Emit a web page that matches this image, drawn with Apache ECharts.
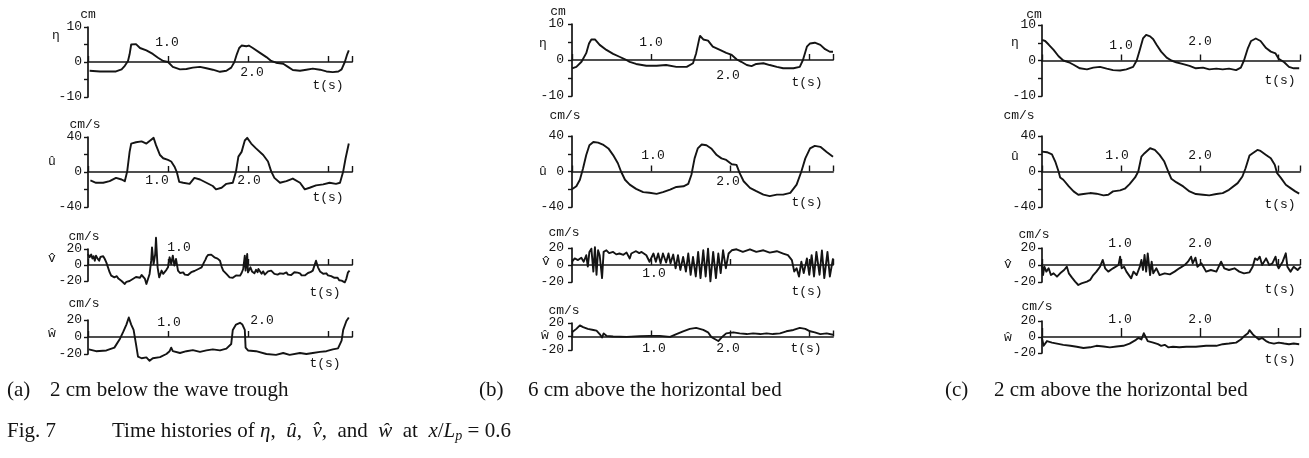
<!DOCTYPE html>
<html>
<head>
<meta charset="utf-8">
<script src="https://cdn.jsdelivr.net/npm/echarts@6/dist/echarts.min.js"></script>
<style>
  html, body { margin: 0; padding: 0; background: #ffffff; }
  #chart { width: 1309px; height: 458px; }
</style>
</head>
<body>
<div id="chart"></div>
<script>
// ---- time histories: [t (s), value] ----
// (a) 2 cm below the wave trough
const etaA = [[0.02,-2.5],[0.15,-2.7],[0.35,-2.7],[0.42,-2.1],[0.46,-1.1],[0.50,0.3],[0.52,2.2],[0.54,5.0],[0.56,5.4],[0.60,5.1],[0.65,4.0],[0.73,3.3],[0.81,2.3],[0.875,1.2],[0.94,0.3],[1.0,0],[1.06,-1.4],[1.15,-2.1],[1.23,-2.0],[1.31,-1.6],[1.40,-1.4],[1.48,-1.8],[1.56,-2.2],[1.65,-2.8],[1.73,-2.5],[1.79,-1.6],[1.83,0],[1.86,2.2],[1.89,4.0],[1.92,4.7],[1.98,4.5],[2.01,4.7],[2.06,4.0],[2.15,2.6],[2.23,1.4],[2.29,0.3],[2.35,-0.2],[2.44,-0.5],[2.50,-1.4],[2.56,-2.3],[2.65,-2.5],[2.73,-2.2],[2.81,-1.9],[2.90,-2.2],[2.98,-2.7],[3.06,-2.9],[3.13,-2.7],[3.17,-2.1],[3.21,0],[3.24,2.2],[3.26,3.3]];
const uA = [[0.03,-9.7],[0.10,-12.3],[0.19,-12.3],[0.27,-10.5],[0.35,-6.7],[0.42,-8.6],[0.46,-10.5],[0.49,0.7],[0.52,23],[0.54,32.5],[0.60,34],[0.67,35],[0.73,32.5],[0.77,35.5],[0.82,39],[0.85,30.7],[0.90,19.4],[0.94,15.7],[1.0,13.8],[1.04,12],[1.08,6.4],[1.11,0],[1.14,-11.2],[1.19,-12.3],[1.27,-13.5],[1.33,-6.7],[1.40,-8.6],[1.48,-12.3],[1.56,-16],[1.60,-19.8],[1.67,-18],[1.73,-13.5],[1.81,-12.3],[1.85,0.7],[1.88,17.6],[1.92,23],[1.96,36],[1.99,39],[2.04,32.5],[2.10,27],[2.19,19.4],[2.25,12],[2.29,0.7],[2.33,-6.7],[2.40,-12.3],[2.48,-10.5],[2.56,-7.5],[2.65,-12.3],[2.71,-19.8],[2.77,-18],[2.85,-15.3],[2.94,-14.2],[3.02,-12.3],[3.10,-13.5],[3.15,-12.3],[3.19,0.7],[3.22,15.7],[3.26,32.5]];
const vA = [[0,13.7],[0.02,9.6],[0.04,13],[0.055,8],[0.07,11],[0.085,5.4],[0.10,11.7],[0.12,8],[0.14,5.4],[0.155,10],[0.17,9.6],[0.19,11],[0.21,7.5],[0.23,3],[0.25,-2.9],[0.27,-9],[0.29,-13.3],[0.31,-12],[0.33,-15.4],[0.36,-14],[0.38,-17],[0.40,-17.5],[0.42,-20],[0.44,-19],[0.46,-23.7],[0.48,-21],[0.50,-23],[0.52,-20],[0.54,-21],[0.56,-17.5],[0.58,-18.5],[0.60,-15],[0.625,-14.6],[0.65,-16],[0.67,-12.5],[0.69,-13.3],[0.71,-17],[0.73,-23.7],[0.75,-25.8],[0.77,-11.2],[0.79,5.4],[0.80,22],[0.82,1.2],[0.84,13.7],[0.85,34],[0.87,-2.9],[0.89,-15.4],[0.92,-7],[0.94,-11],[0.96,-9.2],[0.98,-6],[1.0,-2.9],[1.02,9.6],[1.04,1.2],[1.06,11.7],[1.08,-0.8],[1.10,7.5],[1.125,-7],[1.15,-10],[1.17,-8],[1.19,-9.2],[1.21,-12],[1.23,-10],[1.25,-12.5],[1.27,-11.2],[1.29,-9],[1.31,-10.5],[1.33,-7.5],[1.35,-7],[1.38,-5],[1.40,-4],[1.42,-2.9],[1.45,3.3],[1.47,7],[1.48,9.6],[1.50,12.5],[1.52,11.7],[1.54,13],[1.56,10.5],[1.58,9.6],[1.60,11],[1.62,8],[1.65,5.4],[1.67,-2],[1.69,-7],[1.71,-9],[1.73,-11.2],[1.75,-13],[1.77,-15.4],[1.79,-13],[1.81,-16],[1.83,-15.4],[1.85,-13],[1.87,-15],[1.90,-13.3],[1.92,-10],[1.94,-5],[1.96,11.7],[1.97,-7],[1.99,13.7],[2.0,-9.2],[2.03,-2.9],[2.05,-8],[2.07,-6],[2.08,-10.4],[2.10,-6],[2.12,-9],[2.13,-5],[2.15,-7],[2.17,-11],[2.19,-8],[2.21,-12],[2.23,-11.2],[2.25,-8],[2.27,-10],[2.29,-7],[2.31,-8],[2.33,-11],[2.35,-9],[2.37,-12],[2.40,-10.4],[2.42,-8],[2.44,-11],[2.46,-9],[2.48,-9.2],[2.50,-12],[2.52,-10],[2.54,-12.5],[2.56,-11.2],[2.58,-9],[2.60,-11],[2.62,-9.5],[2.65,-10.4],[2.67,-13],[2.69,-11],[2.71,-13],[2.73,-12],[2.75,-10],[2.78,-9],[2.81,-7],[2.85,5.4],[2.875,-2.9],[2.90,-8],[2.92,-7],[2.94,-11],[2.96,-9],[2.98,-10.4],[3.00,-13],[3.02,-11],[3.04,-14],[3.06,-13.3],[3.08,-16],[3.10,-17.5],[3.12,-16],[3.14,-19],[3.17,-19.6],[3.19,-18],[3.21,-21.7],[3.23,-17],[3.25,-9.2],[3.27,-7]];
const wA = [[0.01,-14.6],[0.10,-16.7],[0.23,-15.8],[0.33,-12.5],[0.40,-2],[0.44,6],[0.48,14.6],[0.51,23],[0.54,14.6],[0.57,8.3],[0.60,-8.3],[0.625,-23],[0.67,-25],[0.73,-24],[0.77,-28],[0.81,-25],[0.90,-23.7],[0.98,-20],[1.02,-16.7],[1.04,-12.5],[1.06,-16.7],[1.15,-18.8],[1.23,-16.7],[1.31,-15.4],[1.40,-17.5],[1.48,-15.8],[1.56,-14.6],[1.65,-15.8],[1.73,-13.7],[1.79,-8.3],[1.81,8.3],[1.85,14.6],[1.90,16.7],[1.93,14.6],[1.96,8.3],[1.97,-12.5],[2.0,-15.8],[2.10,-16.7],[2.23,-20],[2.35,-21],[2.44,-18.8],[2.52,-21],[2.65,-18.8],[2.73,-20],[2.81,-18.8],[2.90,-17.5],[2.98,-16.7],[3.06,-14.6],[3.125,-13.3],[3.17,-4.2],[3.19,8.3],[3.23,18.8],[3.26,23]];

// (b) 6 cm above the horizontal bed
const etaB = [[0,-2.3],[0.055,-1.9],[0.12,-0.5],[0.18,1.9],[0.215,4.6],[0.245,5.7],[0.29,5.7],[0.35,4.2],[0.435,2.8],[0.52,1.7],[0.60,0.9],[0.67,0.2],[0.73,-0.5],[0.81,-1.1],[0.94,-1.6],[1.07,-1.6],[1.19,-1.4],[1.32,-1.9],[1.45,-1.9],[1.53,-0.9],[1.57,1.9],[1.61,6],[1.62,6.7],[1.66,5.7],[1.72,5.4],[1.78,3.7],[1.87,2.8],[1.95,2],[2.02,1.4],[2.08,0.2],[2.14,-0.5],[2.21,-1.4],[2.27,-1.7],[2.33,-1.1],[2.42,-0.9],[2.50,-1.4],[2.59,-1.9],[2.67,-2.3],[2.80,-2.3],[2.88,-1.9],[2.92,0],[2.97,3.7],[3.01,4.6],[3.07,4.8],[3.14,4.2],[3.20,3],[3.26,2.3],[3.30,2.3]];
const uB = [[0,-20],[0.055,-16.7],[0.10,-9.3],[0.14,3.7],[0.18,18.5],[0.22,29.6],[0.27,33.3],[0.33,32.6],[0.39,30.4],[0.46,26],[0.52,18.5],[0.58,9.3],[0.62,0],[0.67,-9.3],[0.73,-14.8],[0.81,-19.6],[0.90,-23.3],[0.98,-24],[1.07,-25.2],[1.15,-23.3],[1.24,-20.4],[1.32,-17.4],[1.41,-16.7],[1.47,-14],[1.51,-3.7],[1.55,14.8],[1.59,26],[1.64,30.4],[1.70,29.6],[1.76,26],[1.83,18.5],[1.89,14.8],[1.95,13],[2.02,8.1],[2.08,7.4],[2.12,-1.9],[2.17,-11],[2.25,-18.5],[2.33,-22.2],[2.42,-26],[2.50,-27.8],[2.59,-26],[2.67,-26],[2.76,-24],[2.84,-14.8],[2.90,0],[2.95,14.8],[3.01,26],[3.07,28.9],[3.14,27.8],[3.22,22],[3.30,16.7]];
const vB = [[0,3.8],[0.034,7.7],[0.076,5.8],[0.118,8.5],[0.148,3.8],[0.18,11.5],[0.20,-1.9],[0.22,15.4],[0.245,19.2],[0.27,-7.7],[0.29,21],[0.31,-11.5],[0.33,17.3],[0.35,11.5],[0.38,-15.4],[0.40,15.4],[0.435,17.3],[0.47,14],[0.52,15.4],[0.56,12.5],[0.60,13.5],[0.65,12],[0.69,14.6],[0.73,7.7],[0.75,13.5],[0.78,15],[0.81,16.2],[0.85,14],[0.88,15.4],[0.94,11.5],[0.98,3.8],[1.03,13.5],[1.06,3.8],[1.09,13.5],[1.12,1.9],[1.15,13.5],[1.19,3],[1.22,13.5],[1.245,1.9],[1.28,12.3],[1.31,-3.8],[1.34,11.5],[1.37,-5.8],[1.405,9.6],[1.44,-7.7],[1.47,13.5],[1.50,-11.5],[1.53,9.6],[1.565,-13.5],[1.595,15.4],[1.625,-15.4],[1.66,17.3],[1.69,-13.5],[1.72,19.2],[1.75,-19.2],[1.785,15.4],[1.82,-15.4],[1.85,13.5],[1.88,-9.6],[1.91,17.3],[1.945,-3.8],[1.98,13.5],[2.02,17.3],[2.08,18.5],[2.16,15.4],[2.25,18.5],[2.33,15.4],[2.42,17.3],[2.50,14.6],[2.59,16.2],[2.67,13.5],[2.73,11.5],[2.78,5.8],[2.81,-7.7],[2.84,-3.8],[2.87,-13.5],[2.90,3.8],[2.93,-9.6],[2.97,7.7],[3.0,-11.5],[3.03,11.5],[3.06,-13.5],[3.09,15.4],[3.13,-11.5],[3.16,17],[3.19,-15.4],[3.23,15.4],[3.26,-13.5],[3.30,7.7]];
const wB = [[0,6.2],[0.055,11.3],[0.10,16.4],[0.14,13.8],[0.20,11.3],[0.27,9.7],[0.31,8.7],[0.35,3.6],[0.38,-1.5],[0.40,4.6],[0.435,1],[0.52,0],[0.69,-0.5],[0.86,0.5],[0.98,1],[1.11,1],[1.24,-0.5],[1.32,3.6],[1.405,7.7],[1.49,11.3],[1.57,12.8],[1.66,9.7],[1.72,6.2],[1.76,-0.5],[1.81,-4],[1.85,-6.7],[1.89,-1.5],[1.95,4.6],[2.04,6.2],[2.12,4.6],[2.21,3.6],[2.29,4.6],[2.38,3.6],[2.46,4.6],[2.54,3.6],[2.63,4.6],[2.71,7.7],[2.80,9.7],[2.88,12.8],[2.95,11.3],[3.01,7.7],[3.07,6.2],[3.14,3.6],[3.22,4.6],[3.30,2.6]];

// (c) 2 cm above the horizontal bed
const etaC = [[0,5.8],[0.04,5.5],[0.084,4.5],[0.147,3],[0.21,1.2],[0.27,0],[0.34,-0.5],[0.40,-1.2],[0.48,-2.2],[0.57,-2.5],[0.65,-2],[0.735,-1.8],[0.82,-2.3],[0.90,-2.7],[0.99,-2.8],[1.07,-2.5],[1.155,-1.8],[1.20,0],[1.24,3],[1.28,6.2],[1.32,7.2],[1.37,6.8],[1.41,6],[1.45,4.5],[1.51,2.5],[1.58,0.8],[1.64,0],[1.70,-0.5],[1.79,-1],[1.87,-1.5],[1.95,-2.2],[2.04,-2],[2.12,-2.5],[2.21,-2.3],[2.29,-2.5],[2.37,-2.3],[2.46,-2.7],[2.52,-2],[2.56,0],[2.61,3.5],[2.65,5.5],[2.71,6.2],[2.77,5.5],[2.84,3.5],[2.90,2.5],[2.96,2],[3.0,0.5],[3.07,-0.5],[3.13,-1.8],[3.19,-2.2],[3.26,-2.2]];
const uC = [[0,22.4],[0.063,21.7],[0.126,19.4],[0.168,11.2],[0.21,0],[0.23,-6.7],[0.27,-9.3],[0.34,-16.8],[0.40,-22.4],[0.46,-26.2],[0.525,-25.4],[0.61,-24.3],[0.69,-25],[0.78,-26.9],[0.84,-26.2],[0.90,-22.4],[0.99,-21.3],[1.05,-19.4],[1.11,-14.2],[1.18,-6.7],[1.22,0],[1.26,16.8],[1.30,20.6],[1.37,26.2],[1.43,24.3],[1.49,18.7],[1.55,11.2],[1.60,0],[1.64,-8.2],[1.70,-12],[1.79,-16.8],[1.87,-22.4],[1.95,-25.4],[2.04,-26.2],[2.12,-26.9],[2.21,-25.4],[2.29,-24.3],[2.37,-20.6],[2.48,-13.1],[2.54,-5.6],[2.58,3.7],[2.63,18],[2.67,20.6],[2.73,24.3],[2.77,23.2],[2.84,18.7],[2.90,15],[2.95,7.5],[2.98,-1.9],[3.03,-7.5],[3.09,-15],[3.15,-18.7],[3.21,-22.4],[3.26,-25]];
const vC = [[0,2],[0.013,-11.8],[0.03,-2],[0.055,-7.8],[0.084,-3.9],[0.113,-11.8],[0.147,-9.8],[0.19,-13.7],[0.23,-9.8],[0.28,-5.9],[0.315,-2],[0.34,-9.8],[0.38,-14.9],[0.42,-19.6],[0.46,-23.5],[0.50,-21.6],[0.57,-19.6],[0.61,-17.6],[0.65,-11.8],[0.69,-7.8],[0.735,-2],[0.77,5.9],[0.80,-3.9],[0.84,-7.8],[0.90,-3.9],[0.97,0],[0.99,9.8],[1.01,-3.9],[1.04,-2],[1.07,-7.8],[1.13,-15.7],[1.16,-7.8],[1.20,-11.8],[1.24,-2],[1.26,5.9],[1.28,-5.9],[1.30,11.8],[1.32,-7.8],[1.34,13.7],[1.37,-11.8],[1.39,3.9],[1.41,-9.8],[1.45,-3.9],[1.49,-11.8],[1.555,-9.8],[1.62,-11],[1.68,-7.8],[1.74,-3.9],[1.81,0],[1.85,3.9],[1.89,9.8],[1.91,2],[1.945,8.6],[1.97,-2],[2.02,2],[2.08,-7.8],[2.14,-5.9],[2.21,-7.8],[2.27,3.9],[2.31,-3.9],[2.37,-5.9],[2.44,-3.9],[2.50,-7.8],[2.56,-9.8],[2.63,-8.6],[2.67,-2],[2.70,7.8],[2.73,5.9],[2.76,9.8],[2.79,0],[2.84,7.8],[2.88,0],[2.92,2],[2.96,9.8],[2.98,0],[3.0,-3.9],[3.05,3.9],[3.09,13.7],[3.11,-2],[3.15,-7.8],[3.19,-2],[3.24,-5.9],[3.28,-2]];
const wC = [[0,-1.2],[0.02,-11],[0.063,-5.1],[0.126,-7],[0.19,-8.2],[0.27,-9.8],[0.36,-11],[0.44,-12.2],[0.525,-13.7],[0.61,-12.9],[0.69,-11],[0.78,-11.8],[0.86,-12.9],[0.945,-11.8],[1.03,-11],[1.11,-8.2],[1.18,-4.3],[1.22,-1.2],[1.26,-3.1],[1.29,4.7],[1.315,5.9],[1.34,-5.1],[1.41,-7],[1.47,-9],[1.51,-11],[1.555,-9.8],[1.60,-12.9],[1.66,-12.2],[1.74,-12.9],[1.83,-12.2],[1.95,-12.2],[2.08,-11],[2.21,-11],[2.29,-9],[2.37,-8.2],[2.46,-7],[2.52,-3.1],[2.56,0.8],[2.61,4.7],[2.63,8.6],[2.67,3.5],[2.70,0.8],[2.75,-3.1],[2.79,-1.2],[2.84,-5.1],[2.88,-7],[2.94,-8.2],[3.0,-7],[3.07,-8.2],[3.13,-9],[3.19,-8.2],[3.26,-9]];

// ---- axis limits per quantity (η, û, v̂, ŵ) ----
const yLimits = [10, 40, 20, 20];
const yTickSteps = [5, 20, 20, 20];
const yLabelValues = [[10, 0, -10], [40, 0, -40], [20, 0, -20], [20, 0, -20]];
const quantityNames = ['η', 'û', 'v̂', 'ŵ'];
const unitNames = ['cm', 'cm/s', 'cm/s', 'cm/s'];
const tTicks = 1.0;
const captions = ['2 cm below the wave trough', '6 cm above the horizontal bed', '2 cm above the horizontal bed'];
const captionTags = ['(a)', '(b)', '(c)'];

const seriesByColumn = [
  [etaA, uA, vA, wA],
  [etaB, uB, vB, wB],
  [etaC, uC, vC, wC]
];

// ---- layout ----
const COLS = [
  { left: 88,   width: 264, tmax: 3.30, labelMargin: 6 },
  { left: 572,  width: 261, tmax: 3.30, labelMargin: 8 },
  { left: 1042, width: 258, tmax: 3.27, labelMargin: 6 }
];
const ROWS = [
  [{ top: 27, height: 70 }, { top: 137, height: 70 }, { top: 249, height: 32 }, { top: 320, height: 34 }],
  [{ top: 24, height: 72 }, { top: 136, height: 71 }, { top: 248, height: 34 }, { top: 323, height: 27 }],
  [{ top: 25, height: 71 }, { top: 136, height: 71 }, { top: 248, height: 34 }, { top: 321, height: 32 }]
];
// text anchors (centre x, centre y) for quantity symbols and units
const SYMBOL_POS = [
  [[56, 36], [52, 162], [52, 259], [52, 334]],
  [[543, 44], [543, 172], [546, 262], [545, 336]],
  [[1015, 43], [1015, 157], [1008, 265], [1008, 338]]
];
const UNIT_POS = [
  [[88, 15], [85, 125], [84, 237], [84, 304]],
  [[558, 12], [565, 116], [564, 233], [564, 311]],
  [[1034, 15], [1019, 116], [1034, 235], [1037, 307]]
];
// time-axis annotations: [text, centre x, centre y]
const TIME_TEXT = [
  ['1.0', 167, 43], ['2.0', 252, 73], ['t(s)', 328, 86],
  ['1.0', 157, 181], ['2.0', 249, 181], ['t(s)', 328, 198],
  ['1.0', 179, 248], ['t(s)', 325, 293],
  ['1.0', 169, 323], ['2.0', 262, 321], ['t(s)', 325, 364],
  ['1.0', 651, 43], ['2.0', 728, 76], ['t(s)', 807, 83],
  ['1.0', 653, 156], ['2.0', 728, 182], ['t(s)', 807, 203],
  ['1.0', 654, 274], ['t(s)', 807, 292],
  ['1.0', 654, 349], ['2.0', 728, 349], ['t(s)', 806, 349],
  ['1.0', 1121, 46], ['2.0', 1200, 42], ['t(s)', 1280, 81],
  ['1.0', 1117, 156], ['2.0', 1200, 156], ['t(s)', 1280, 205],
  ['1.0', 1120, 244], ['2.0', 1200, 244], ['t(s)', 1280, 290],
  ['1.0', 1120, 320], ['2.0', 1200, 320], ['t(s)', 1280, 360]
];
const CAPTION_Y = 390;
const CAPTION_TAG_X = [7, 479, 945];
const CAPTION_TEXT_X = [50, 528, 994];
const FIG_Y = 431;
const CAPTION_FONT = 21;

const INK = '#141414';
const MONO = '"Liberation Mono", "DejaVu Sans Mono", monospace';
const SERIF = '"Liberation Serif", "DejaVu Serif", serif';

const grid = [], xAxis = [], yAxis = [], series = [];
seriesByColumn.forEach((cols, c) => {
  cols.forEach((data, r) => {
    const i = grid.length;
    const lim = yLimits[r];
    grid.push({ left: COLS[c].left, top: ROWS[c][r].top, width: COLS[c].width, height: ROWS[c][r].height, containLabel: false });
    xAxis.push({
      type: 'value', gridIndex: i, min: 0, max: COLS[c].tmax, interval: tTicks,
      axisLine: { show: true, onZero: true, lineStyle: { color: INK, width: 1.7 } },
      axisTick: { show: true, inside: true, length: (c === 2 && r === 3) ? 9 : 6, lineStyle: { color: INK, width: 1.4 } },
      axisLabel: { show: false }, splitLine: { show: false }
    });
    const shown = yLabelValues[r];
    yAxis.push({
      type: 'value', gridIndex: i, min: -lim, max: lim, interval: yTickSteps[r],
      axisLine: { show: true, onZero: false, lineStyle: { color: INK, width: 1.7 } },
      axisTick: { show: true, inside: false, length: 4, lineStyle: { color: INK, width: 1.4 } },
      axisLabel: {
        show: true, margin: COLS[c].labelMargin, color: INK, fontFamily: MONO, fontSize: 13,
        formatter: v => (shown.indexOf(v) >= 0 ? String(v) : '')
      },
      splitLine: { show: false }
    });
    series.push({
      type: 'line', xAxisIndex: i, yAxisIndex: i, data: data,
      showSymbol: false, symbol: 'none', clip: false, smooth: false,
      lineStyle: { color: INK, width: 1.9, join: 'round' }, z: 3, silent: true
    });
  });
});

const graphic = [];
function addText(text, x, y, font, align) {
  graphic.push({
    type: 'text', x: x, y: y, silent: true,
    style: { text: text, font: font, fill: INK, align: align || 'center', verticalAlign: 'middle',
             textAlign: align || 'center', textVerticalAlign: 'middle' }
  });
}
const capFont = CAPTION_FONT + 'px ' + SERIF;
seriesByColumn.forEach((cols, c) => {
  for (let r = 0; r < 4; r++) {
    addText(quantityNames[r], SYMBOL_POS[c][r][0], SYMBOL_POS[c][r][1], '13px ' + MONO);
    addText(unitNames[r], UNIT_POS[c][r][0], UNIT_POS[c][r][1], '13px ' + MONO);
  }
  addText(captionTags[c], CAPTION_TAG_X[c], CAPTION_Y, capFont, 'left');
  addText(captions[c], CAPTION_TEXT_X[c], CAPTION_Y, capFont, 'left');
});
TIME_TEXT.forEach(t => addText(t[0], t[1], t[2], '13px ' + MONO));
addText('Fig. 7', 7, FIG_Y, capFont, 'left');
graphic.push({
  type: 'text', x: 112, y: FIG_Y, silent: true,
  style: {
    text: 'Time histories of {i|η},  {i|û},  {i|v̂},  and  {i|ŵ}  at  {i|x}/{i|L}{s|p} = 0.6',
    font: capFont, fill: INK, align: 'left', verticalAlign: 'middle',
    textAlign: 'left', textVerticalAlign: 'middle',
    rich: {
      i: { fontStyle: 'italic', fontFamily: SERIF, fontSize: CAPTION_FONT, fill: INK },
      s: { fontStyle: 'italic', fontFamily: SERIF, fontSize: 14, fill: INK, padding: [10, 0, 0, 0] }
    }
  }
});

const chart = echarts.init(document.getElementById('chart'), null, { renderer: 'canvas' });
chart.setOption({
  animation: false,
  backgroundColor: '#ffffff',
  grid: grid, xAxis: xAxis, yAxis: yAxis, series: series, graphic: graphic
});
</script>
</body>
</html>
